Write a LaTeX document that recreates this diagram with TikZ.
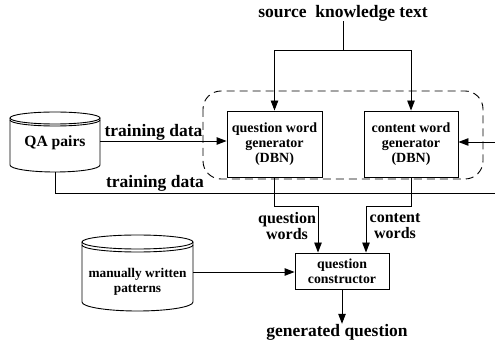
\documentclass[tikz,border=0pt]{standalone}
\usepackage{fontspec}
\setmainfont{Liberation Serif}
\usetikzlibrary{arrows.meta,calc}
\tikzset{
  box/.style={draw, line width=0.9pt, inner sep=0pt, align=center, font=\bfseries\fontsize{14}{15}\selectfont},
  conn/.style={line width=0.9pt},
  arr/.style={line width=0.9pt, -{Triangle[length=10pt,width=7.5pt]}},
  biglabel/.style={font=\bfseries\fontsize{17.5}{20}\selectfont, inner sep=0pt},
  midlabel/.style={font=\bfseries\fontsize{16}{16}\selectfont, inner sep=0pt, align=center},
  cyl/.style={line width=0.9pt},
}
\begin{document}
\begin{tikzpicture}[x=1pt,y=-1pt]
\useasboundingbox (0,0) rectangle (495,344);
% source text
\node[biglabel] (src) at (343,13) {source\ \ knowledge text};
\coordinate (split) at (343,50);
% generator boxes
\node[box, minimum width=95pt, minimum height=66pt] (qwg) at (274.5,144) {question word\\generator\\(DBN)};
\node[box, minimum width=94pt, minimum height=66pt] (cwg) at (411,144) {content word\\generator\\(DBN)};
% dashed group
\draw[line width=0.9pt, dash pattern=on 8pt off 5pt, rounded corners=18pt] (203,91) rectangle (483,179);
% source arrows
\draw[conn] (src.south) -- (split);
\draw[arr] (split) -| (qwg.north);
\draw[arr] (split) -| (cwg.north);
% right input
\coordinate (rin) at (495,142);
\draw[arr] (rin) -- (rin -| cwg.east);
% QA pairs cylinder
\draw[cyl] (10,118) -- (10,165) arc[start angle=180,end angle=360,x radius=45pt,y radius=7pt] -- (100,118);
\draw[cyl] (55,118) ellipse[x radius=45pt,y radius=6pt];
\draw[cyl] (10,120) arc[start angle=180,end angle=360,x radius=45pt,y radius=6pt];
\node[font=\bfseries\fontsize{15.6}{18}\selectfont, inner sep=0pt] (qa) at (55,143) {QA pairs};
\coordinate (qaE) at (100,141);
\coordinate (qaB) at (55,172);
\coordinate (rout) at (495,193);
\draw[arr] (qaE) -- (qaE -| qwg.west);
\node[biglabel] (td1) at (153.5,132) {training data};
\draw[conn] (qaB) |- (rout);
\node[biglabel] (td2) at (155,183) {training data};
% question constructor
\node[box, minimum width=94pt, minimum height=36pt, font=\bfseries\fontsize{13.8}{15}\selectfont] (qc) at (342,271) {question\\constructor};
\draw[arr] (qwg.south) -- ++(0,29) -| ([xshift=-24pt]qc.north);
\draw[arr] (cwg.south) -- ++(0,29) -| ([xshift=24pt]qc.north);
\node[midlabel] (qwl) at (287,226) {question\\words};
\node[midlabel] (cwl) at (395,226) {content\\words};
% manual patterns cylinder
\draw[cyl] (82,242) -- (82,302) arc[start angle=180,end angle=360,x radius=55.5pt,y radius=9pt] -- (193,242);
\draw[cyl] (137.5,242) ellipse[x radius=55.5pt,y radius=7pt];
\draw[cyl] (82,245) arc[start angle=180,end angle=360,x radius=55.5pt,y radius=7pt];
\node[align=center, font=\bfseries\fontsize{13.3}{14.5}\selectfont, inner sep=0pt] (mp) at (137.5,282) {manually written\\patterns};
\coordinate (mpE) at (193,272);
\draw[arr] (mpE) -- (mpE -| qc.west);
% output
\node[biglabel] (gen) at (337,332) {generated question};
\draw[arr] (qc.south) -- (qc.south |- gen.north);
\end{tikzpicture}
\end{document}
